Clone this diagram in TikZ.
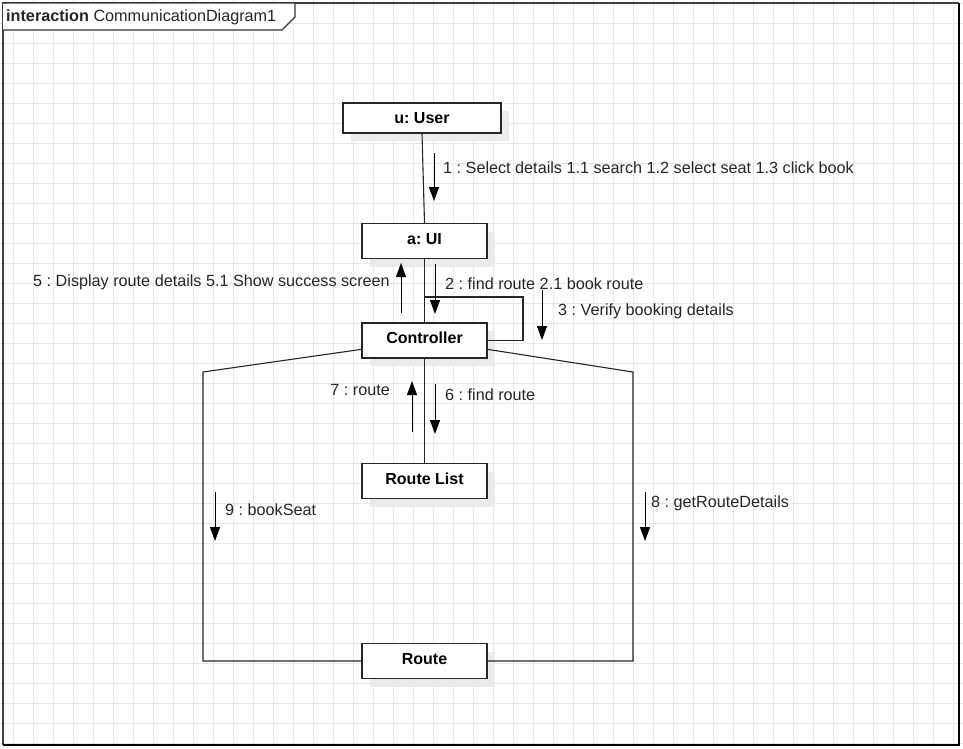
\documentclass[tikz,border=0pt]{standalone}
\usepackage{fontspec}
\setmainfont{Liberation Sans}
\usetikzlibrary{arrows.meta,shadows,calc}
\frenchspacing

\begin{document}
\begin{tikzpicture}[x=1pt,y=-1pt,
  txt/.style={font=\fontsize{16.2}{19}\selectfont},
  obj/.style={draw=black!85, line width=1.2pt, fill=white,
    minimum width=125pt, minimum height=35pt, inner sep=0pt,
    text height=11.5pt, text depth=5pt,
    font=\bfseries\fontsize{16}{19}\selectfont,
    drop shadow={shadow xshift=8pt, shadow yshift=-8pt, fill=black!8, opacity=1}},
  link/.style={line width=1.1pt, draw=black!85},
  msg/.style={line width=1pt, draw=black, -{Triangle[length=14pt,width=10pt]}},
  lbl/.style={txt, inner sep=0pt, text=black!85},
]
% canvas and grid
\useasboundingbox (0,0) rectangle (963,748);
\fill[white] (0,0) rectangle (963,748);
\foreach \gx in {13,33,...,953} \draw[black!9, line width=0.8pt] (\gx,0) -- (\gx,748);
\foreach \gy in {3,23,...,743} \draw[black!9, line width=0.8pt] (0,\gy) -- (963,\gy);

% interaction frame
\draw[black!75, line width=1.3pt] (959,3) -- (3,3) -- (3,745);
\draw[black, line width=1.6pt] (3,745) -- (959,745) -- (959,3);
\draw[black!80, line width=1.2pt, fill=white] (3,3) -- (295,3) -- (295,17) -- (282,30) -- (3,30);
\node[lbl, anchor=base west] (frametitle) at (6,21) {\textbf{interaction} CommunicationDiagram1};

% lifeline objects
\node[obj, minimum width=158pt, minimum height=30pt, text depth=0pt] (user) at (422,118) {u: User};
\node[obj] (ui) at (424.5,241) {a: UI};
\node[obj] (ctrl) at (424.5,340.5) {Controller};
\node[obj] (rlist) at (424.5,481) {Route List};
\node[obj] (route) at (424.5,661) {Route};

% links between objects
\coordinate (loopc) at (523,297);
\coordinate (lbend) at (203,372);
\coordinate (rbend) at (633,372);
\draw[link] (user.south) -- (ui.north);
\draw[link] (ui.south) -- (ctrl.north);
\draw[link] (ctrl.north) |- (loopc) |- (ctrl.east);
\draw[link] (ctrl.south) -- (rlist.north);
\draw[link] (ctrl.188) -- (lbend) |- (route.west);
\draw[link] (ctrl.352) -- (rbend) |- (route.east);

% messages
\coordinate (m1a) at (434,153); \coordinate (m1b) at (434,201);
\coordinate (m2a) at (435,264); \coordinate (m2b) at (435,314);
\coordinate (m3a) at (542,290); \coordinate (m3b) at (542,340);
\coordinate (m5a) at (401,313); \coordinate (m5b) at (401,263);
\coordinate (m6a) at (435,384); \coordinate (m6b) at (435,434);
\coordinate (m7a) at (412,432); \coordinate (m7b) at (412,381);
\coordinate (m8a) at (645,492); \coordinate (m8b) at (645,541);
\coordinate (m9a) at (215,492); \coordinate (m9b) at (215,541);
\draw[msg] (m1a) -- (m1b);
\draw[msg] (m2a) -- (m2b);
\draw[msg] (m3a) -- (m3b);
\draw[msg] (m5a) -- (m5b);
\draw[msg] (m6a) -- (m6b);
\draw[msg] (m7a) -- (m7b);
\draw[msg] (m8a) -- (m8b);
\draw[msg] (m9a) -- (m9b);

% message labels
\node[lbl, anchor=base west] (l1) at (443,173) {1 : Select details 1.1 search 1.2 select seat 1.3 click book};
\node[lbl, anchor=base west] (l2) at (445,289) {2 : find route 2.1 book route};
\node[lbl, anchor=base west] (l3) at (558,315) {3 : Verify booking details};
\node[lbl, anchor=base east] (l5) at (390,286) {5 : Display route details 5.1 Show success screen};
\node[lbl, anchor=base west] (l6) at (445,400) {6 : find route};
\node[lbl, anchor=base east] (l7) at (390,395) {7 : route};
\node[lbl, anchor=base west] (l8) at (651,507) {8 : getRouteDetails};
\node[lbl, anchor=base west] (l9) at (225,515) {9 : bookSeat};
\end{tikzpicture}
\end{document}
